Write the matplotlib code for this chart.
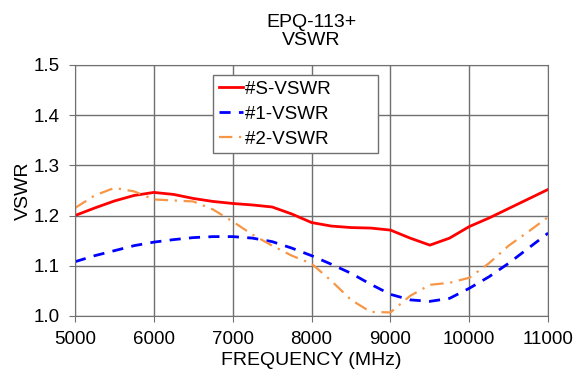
import matplotlib.pyplot as plt

plt.rcParams['font.family'] = ['Liberation Sans', 'DejaVu Sans']

freq = [5000, 5250, 5500, 5750, 6000, 6250, 6500, 6750, 7000, 7250, 7500, 7750, 8000,
        8250, 8500, 8750, 9000, 9250, 9500, 9750, 10000, 10250, 10500, 10750, 11000]
vswr_s = [1.200, 1.215, 1.229, 1.240, 1.246, 1.242, 1.234, 1.228, 1.224, 1.221, 1.217, 1.203, 1.186,
          1.179, 1.176, 1.175, 1.171, 1.155, 1.141, 1.155, 1.178, 1.195, 1.214, 1.233, 1.252]
vswr_1 = [1.108, 1.120, 1.130, 1.140, 1.147, 1.152, 1.156, 1.158, 1.158, 1.155, 1.148, 1.135, 1.120,
          1.103, 1.085, 1.063, 1.043, 1.032, 1.029, 1.035, 1.055, 1.078, 1.105, 1.135, 1.165]
vswr_2 = [1.215, 1.240, 1.255, 1.248, 1.232, 1.230, 1.228, 1.212, 1.188, 1.162, 1.140, 1.120, 1.104,
          1.070, 1.032, 1.008, 1.007, 1.040, 1.062, 1.066, 1.076, 1.105, 1.140, 1.168, 1.197]

fig = plt.figure(figsize=(5.77, 3.73), dpi=100)
ax = fig.add_axes([0.130, 0.153, 0.820, 0.673])

ax.plot(freq, vswr_s, color='#ff0000', lw=2, label='#S-VSWR')
ax.plot(freq, vswr_1, color='#0000ff', lw=2, ls=(0, (4, 3)), label='#1-VSWR')
ax.plot(freq, vswr_2, color='#f79646', lw=1.6, ls=(0, (6, 3, 1, 3)), label='#2-VSWR')

ax.set_xlim(5000, 11000)
ax.set_ylim(1.0, 1.5)
ax.set_xticks(range(5000, 11001, 1000))
ax.set_yticks([1.0, 1.1, 1.2, 1.3, 1.4, 1.5])
ax.set_yticklabels(['1.0', '1.1', '1.2', '1.3', '1.4', '1.5'])
ax.grid(True, color='#707070', lw=1)
ax.set_axisbelow(True)
for s in ax.spines.values():
    s.set_color('#707070')
ax.tick_params(labelsize=13.5, color='#707070', length=4, pad=7)

ax.set_xlabel('FREQUENCY (MHz)', fontsize=14, labelpad=3)
ax.set_ylabel('VSWR', fontsize=14, labelpad=1)
ax.set_title('EPQ-113+\nVSWR', fontsize=14, pad=14, linespacing=1.15)

leg = ax.legend(loc='upper left', bbox_to_anchor=(0.292, 0.96), fontsize=13.5, handlelength=1.3,
                fancybox=False, edgecolor='#707070', framealpha=1, borderpad=0.3,
                labelspacing=0.42, handletextpad=0.1, borderaxespad=0)
leg.get_frame().set_linewidth(1)
for t in leg.get_texts():
    t.set_text(t.get_text() + '        ')

fig.savefig('out.png', dpi=100)
